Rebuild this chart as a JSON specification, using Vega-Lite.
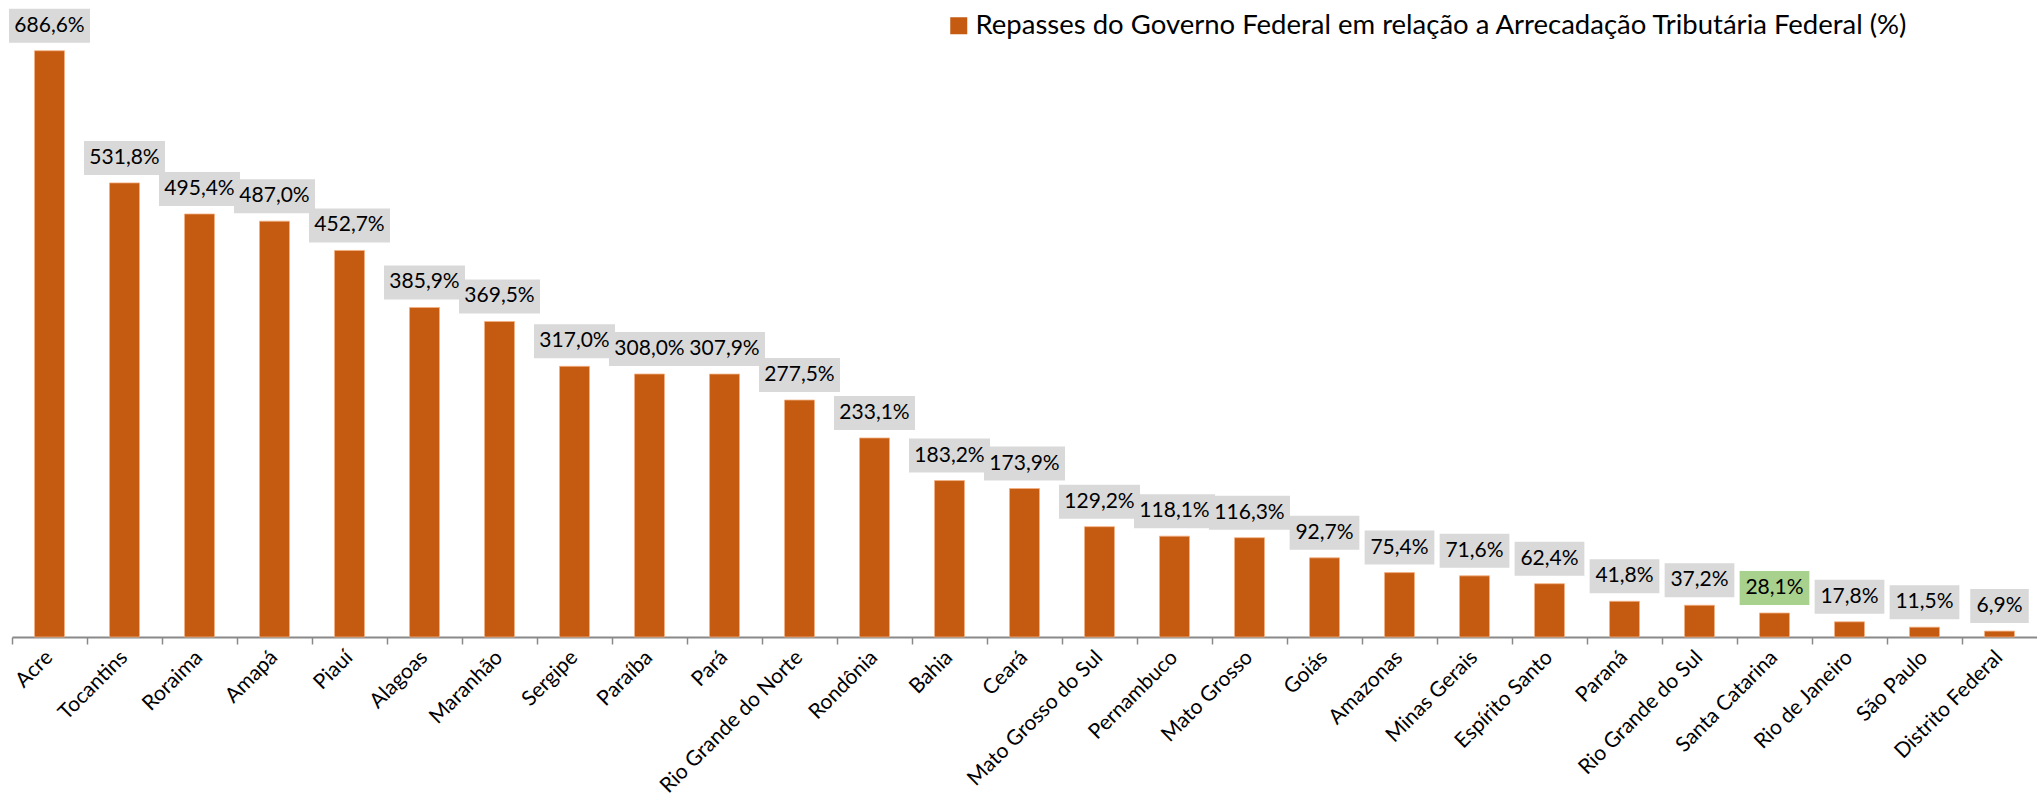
{
  "$schema": "https://vega.github.io/schema/vega-lite/v6.json",
  "autosize": {"type": "none"},
  "padding": {"left": 12, "top": 0, "right": 0, "bottom": 171},
  "width": 2025,
  "height": 637,
  "background": "white",
  "config": {"view": {"stroke": null}, "font": "Lato"},
  "data": {"values": [
    {"estado": "Acre", "v": 686.6, "label": "686,6%"},
    {"estado": "Tocantins", "v": 531.8, "label": "531,8%"},
    {"estado": "Roraima", "v": 495.4, "label": "495,4%"},
    {"estado": "Amapá", "v": 487.0, "label": "487,0%"},
    {"estado": "Piauí", "v": 452.7, "label": "452,7%"},
    {"estado": "Alagoas", "v": 385.9, "label": "385,9%"},
    {"estado": "Maranhão", "v": 369.5, "label": "369,5%"},
    {"estado": "Sergipe", "v": 317.0, "label": "317,0%"},
    {"estado": "Paraíba", "v": 308.0, "label": "308,0%"},
    {"estado": "Pará", "v": 307.9, "label": "307,9%"},
    {"estado": "Rio Grande do Norte", "v": 277.5, "label": "277,5%"},
    {"estado": "Rondônia", "v": 233.1, "label": "233,1%"},
    {"estado": "Bahia", "v": 183.2, "label": "183,2%"},
    {"estado": "Ceará", "v": 173.9, "label": "173,9%"},
    {"estado": "Mato Grosso do Sul", "v": 129.2, "label": "129,2%"},
    {"estado": "Pernambuco", "v": 118.1, "label": "118,1%"},
    {"estado": "Mato Grosso", "v": 116.3, "label": "116,3%"},
    {"estado": "Goiás", "v": 92.7, "label": "92,7%"},
    {"estado": "Amazonas", "v": 75.4, "label": "75,4%"},
    {"estado": "Minas Gerais", "v": 71.6, "label": "71,6%"},
    {"estado": "Espírito Santo", "v": 62.4, "label": "62,4%"},
    {"estado": "Paraná", "v": 41.8, "label": "41,8%"},
    {"estado": "Rio Grande do Sul", "v": 37.2, "label": "37,2%"},
    {"estado": "Santa Catarina", "v": 28.1, "label": "28,1%"},
    {"estado": "Rio de Janeiro", "v": 17.8, "label": "17,8%"},
    {"estado": "São Paulo", "v": 11.5, "label": "11,5%"},
    {"estado": "Distrito Federal", "v": 6.9, "label": "6,9%"}
  ]},
  "encoding": {
    "x": {
      "field": "estado", "type": "nominal", "sort": null,
      "scale": {"paddingInner": 0, "paddingOuter": 0},
      "axis": {
        "title": null,
        "bandPosition": 0,
        "domainColor": "#898989", "domainWidth": 2,
        "tickColor": "#898989", "tickWidth": 1.5, "tickSize": 7,
        "labelAngle": -45, "labelAlign": "right", "labelBaseline": "middle",
        "labelFont": "Lato", "labelFontSize": 21, "labelColor": "#000000",
        "labelPadding": 10, "labelOverlap": false, "labelLimit": 500
      }
    },
    "y": {
      "field": "v", "type": "quantitative",
      "scale": {"domain": [0, 746], "nice": false, "zero": true},
      "axis": null
    }
  },
  "layer": [
    {
      "mark": {"type": "bar", "width": {"band": 0.4}, "stroke": "#F4B183", "strokeWidth": 0.8},
      "encoding": {
        "color": {
          "datum": "Repasses do Governo Federal em relação a Arrecadação Tributária Federal (%)",
          "scale": {"range": ["#C55A11"]},
          "legend": {
            "title": null, "orient": "none", "legendX": 933, "legendY": 12,
            "symbolType": "square", "symbolSize": 289, "symbolStrokeWidth": 0,
            "labelFont": "Lato", "labelFontSize": 27.5, "labelColor": "#000000",
            "labelLimit": 1200, "labelOffset": 3
          }
        }
      }
    },
    {
      "transform": [{"filter": "datum.v >= 100"}],
      "mark": {"type": "bar", "width": {"band": 1.08}, "yOffset": -8, "y2Offset": -42},
      "encoding": {
        "y2": {"field": "v"},
        "color": {"value": "#D9D9D9"}
      }
    },
    {
      "transform": [{"filter": "datum.v >= 10 && datum.v < 100"}],
      "mark": {"type": "bar", "width": {"band": 0.93}, "yOffset": -8, "y2Offset": -42},
      "encoding": {
        "y2": {"field": "v"},
        "color": {"condition": {"test": "datum.estado === 'Santa Catarina'", "value": "#A9D18E"}, "value": "#D9D9D9"}
      }
    },
    {
      "transform": [{"filter": "datum.v < 10"}],
      "mark": {"type": "bar", "width": {"band": 0.78}, "yOffset": -8, "y2Offset": -42},
      "encoding": {
        "y2": {"field": "v"},
        "color": {"value": "#D9D9D9"}
      }
    },
    {
      "mark": {"type": "text", "font": "Lato", "fontSize": 21, "color": "#000000", "baseline": "middle", "align": "center", "dy": -25},
      "encoding": {"text": {"field": "label"}}
    }
  ]
}
